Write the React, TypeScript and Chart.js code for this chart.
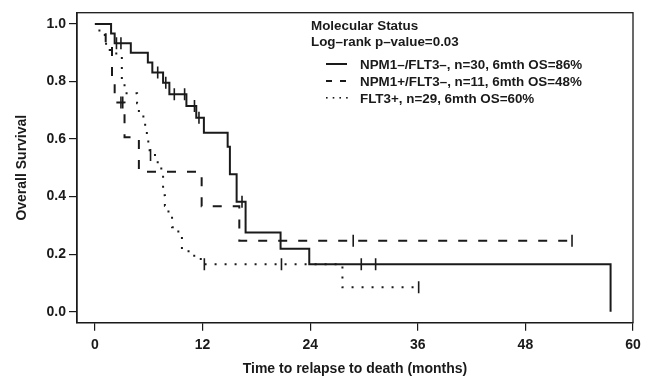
import React, { useEffect, useRef } from "react";
import { Chart, registerables } from "chart.js";

Chart.register(...registerables);

// ---- Data ----
const xTickValues = [0, 12, 24, 36, 48, 60];
const yTickValues = [0, 0.2, 0.4, 0.6, 0.8, 1.0];

const seriesLabels = [
  "NPM1\u2013/FLT3\u2013, n=30, 6mth OS=86%",
  "NPM1+/FLT3\u2013, n=11, 6mth OS=48%",
  "FLT3+, n=29, 6mth OS=60%",
];
const legendTitle = "Molecular Status";
const legendSubtitle = "Log\u2013rank p\u2013value=0.03";

// NPM1-/FLT3- (solid)
const solidTimes = [0, 1.8, 2.2, 4.0, 5.9, 6.4, 7.6, 8.3, 10.2, 11.3, 12.15, 14.8, 15.05, 15.8, 16.8, 20.7, 23.9, 57.5];
const solidSurv = [1.0, 0.967, 0.933, 0.9, 0.866, 0.831, 0.796, 0.756, 0.715, 0.674, 0.622, 0.573, 0.478, 0.382, 0.275, 0.219, 0.165, 0.0];
const solidCensorTimes = [2.4, 2.9, 7.0, 7.9, 8.85, 10.0, 11.1, 11.6, 16.4, 29.7, 31.3];
const solidCensorSurv = [0.933, 0.933, 0.831, 0.796, 0.756, 0.756, 0.715, 0.674, 0.382, 0.165, 0.165];

// NPM1+/FLT3- (dashed)
const dashTimes = [0, 1.2, 1.9, 2.2, 3.3, 4.9, 11.9, 16.1, 53.2];
const dashSurv = [1.0, 0.909, 0.818, 0.727, 0.606, 0.486, 0.367, 0.247, 0.247];
const dashCensorTimes = [2.9, 3.1, 28.8, 53.2];
const dashCensorSurv = [0.727, 0.727, 0.247, 0.247];

// FLT3+ (dotted)
const dotTimes = [0, 0.5, 1.1, 1.9, 3.0, 3.3, 4.7, 4.9, 5.4, 5.6, 5.95, 6.1, 7.0, 7.4, 7.6, 7.8, 8.2, 8.6, 9.3, 9.7, 10.8, 11.8, 27.6, 36.1];
const dotSurv = [1.0, 0.966, 0.931, 0.897, 0.793, 0.759, 0.724, 0.69, 0.655, 0.621, 0.586, 0.545, 0.515, 0.478, 0.405, 0.368, 0.331, 0.294, 0.27, 0.21, 0.195, 0.165, 0.085, 0.085];
const dotCensorTimes = [6.2, 12.2, 20.8, 36.1];
const dotCensorSurv = [0.545, 0.165, 0.165, 0.085];

const FONT = "'Liberation Sans', Arial, Helvetica, sans-serif";
const INK = "#1a1a1a";

const toPts = (xs: number[], ys: number[]) => xs.map((x, i) => ({ x, y: ys[i] }));

const boxPlugin = {
  id: "boxPlugin",
  afterDraw(chart: any) {
    const { ctx, chartArea } = chart;
    ctx.save();
    ctx.strokeStyle = INK;
    ctx.lineWidth = 1.3;
    ctx.strokeRect(chartArea.left, chartArea.top, chartArea.right - chartArea.left, chartArea.bottom - chartArea.top);
    ctx.restore();
  },
};

const legendPlugin = {
  id: "kmLegend",
  afterDraw(chart: any) {
    const { ctx } = chart;
    ctx.save();
    ctx.fillStyle = INK;
    ctx.strokeStyle = INK;
    ctx.font = `bold 13.4px ${FONT}`;
    ctx.textBaseline = "alphabetic";
    ctx.textAlign = "left";
    ctx.fillText(legendTitle, 311, 29.5);
    ctx.fillText(legendSubtitle, 311, 45.5);
    const baselines = [68.5, 85.5, 102.5];
    const x0 = 326;
    const x1 = 347;
    baselines.forEach((b, i) => {
      const yc = b - 4.5;
      ctx.lineWidth = 2;
      if (i === 0) {
        ctx.setLineDash([]);
        ctx.beginPath();
        ctx.moveTo(x0, yc);
        ctx.lineTo(x1, yc);
        ctx.stroke();
      } else if (i === 1) {
        ctx.setLineDash([6, 8]);
        ctx.beginPath();
        ctx.moveTo(x0, yc);
        ctx.lineTo(x1, yc);
        ctx.stroke();
        ctx.setLineDash([]);
      } else {
        for (let k = 0; k < 4; k++) {
          ctx.fillRect(x0 + k * 6.7, yc - 1, 1.6, 1.6);
        }
      }
      ctx.fillText(seriesLabels[i], 360, b);
    });
    ctx.restore();
  },
};

export default function App() {
  const ref = useRef<HTMLCanvasElement>(null);

  useEffect(() => {
    const canvas = ref.current;
    if (!canvas) return;

    const curve = (label: string, xs: number[], ys: number[], dash: number[]) => ({
      type: "line" as const,
      label,
      data: toPts(xs, ys),
      showLine: true,
      stepped: "before" as const,
      borderColor: INK,
      borderWidth: 2,
      borderDash: dash,
      borderCapStyle: "butt" as const,
      pointRadius: 0,
      fill: false,
      tension: 0,
    });
    const censor = (label: string, xs: number[], ys: number[]) => ({
      type: "scatter" as const,
      label,
      data: toPts(xs, ys),
      showLine: false,
      pointStyle: "line" as const,
      rotation: 90,
      pointRadius: 6,
      pointBorderWidth: 1.6,
      pointBorderColor: INK,
      pointBackgroundColor: INK,
    });

    const chart = new Chart(canvas, {
      type: "scatter",
      data: {
        datasets: [
          curve(seriesLabels[0], solidTimes, solidSurv, []),
          curve(seriesLabels[1], dashTimes, dashSurv, [9, 11]),
          curve(seriesLabels[2], dotTimes, dotSurv, [2, 8]),
          censor("c1", solidCensorTimes, solidCensorSurv),
          censor("c2", dashCensorTimes, dashCensorSurv),
          censor("c3", dotCensorTimes, dotCensorSurv),
        ] as any,
      },
      options: {
        responsive: false,
        animation: false,
        events: [],
        layout: { padding: { left: 0, right: 19, top: 12.7, bottom: 0 } },
        plugins: {
          legend: { display: false },
          tooltip: { enabled: false },
        },
        scales: {
          x: {
            type: "linear",
            min: -2,
            max: 60,
            afterBuildTicks: (scale: any) => {
              scale.ticks = xTickValues.map((v) => ({ value: v }));
            },
            afterFit: (scale: any) => {
              scale.height = 378 - 322.7;
            },
            ticks: {
              color: INK,
              font: { family: FONT, size: 14, weight: "bold" },
              padding: 6,
              maxRotation: 0,
              autoSkip: false,
              callback: (v: any) => String(v),
            },
            grid: {
              drawOnChartArea: false,
              drawTicks: true,
              tickLength: 8,
              color: INK,
              lineWidth: 1.2,
            },
            border: { display: true, color: INK, width: 1.3 },
            title: {
              display: true,
              text: "Time to relapse to death (months)",
              color: INK,
              font: { family: FONT, size: 14, weight: "bold" },
              padding: { top: 0, bottom: 0 },
            },
          },
          y: {
            type: "linear",
            min: -0.038,
            max: 1.039,
            afterBuildTicks: (scale: any) => {
              scale.ticks = yTickValues.map((v) => ({ value: v }));
            },
            afterFit: (scale: any) => {
              scale.width = 77;
            },
            ticks: {
              color: INK,
              font: { family: FONT, size: 14, weight: "bold" },
              padding: 3,
              autoSkip: false,
              callback: (v: any) => Number(v).toFixed(1),
            },
            grid: {
              drawOnChartArea: false,
              drawTicks: true,
              tickLength: 8,
              color: INK,
              lineWidth: 1.2,
            },
            border: { display: true, color: INK, width: 1.3 },
            title: {
              display: true,
              text: "Overall Survival",
              color: INK,
              font: { family: FONT, size: 14, weight: "bold" },
              padding: { top: 14, bottom: 0 },
            },
          },
        },
      } as any,
      plugins: [boxPlugin, legendPlugin],
    });

    return () => chart.destroy();
  }, []);

  return (
    <div style={{ position: "fixed", left: 0, top: 0, width: 652, height: 378, background: "#fff" }}>
      <canvas ref={ref} width={652} height={378} style={{ width: 652, height: 378, display: "block" }} />
    </div>
  );
}
